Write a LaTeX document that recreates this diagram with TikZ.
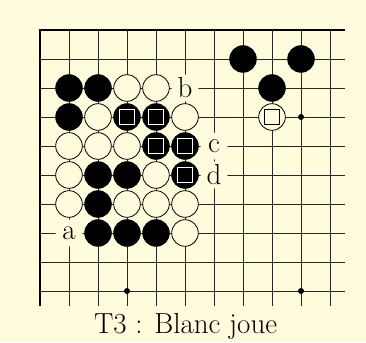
\documentclass[tikz,border=0pt]{standalone}
\usepackage{xcolor}
\usepackage{tikz}

\definecolor{boardyellow}{RGB}{255,252,221}

\begin{document}
\begin{tikzpicture}[x=29pt,y=-29pt,
  gridline/.style={line width=0.9pt,black!85},
  edgeline/.style={line width=2.8pt,black},
  blackstone/.style={fill=black,draw=black,line width=0.8pt},
  whitestone/.style={fill=boardyellow,draw=black,line width=0.8pt},
  labelspot/.style={fill=boardyellow},
  boardtext/.style={font=\fontsize{29}{34}\selectfont,inner sep=0pt}]
\useasboundingbox[fill=boardyellow] (-1.3793,-1.0345) rectangle (11.2414,10.7586);

% grid
\foreach \c in {1,...,10}
  \draw[gridline] (\c,0) -- (\c,9.5);
\foreach \r in {1,...,9}
  \draw[gridline] (0,\r) -- (10.5,\r);
\draw[edgeline,line join=miter] (10.5,0) -- (0,0) -- (0,9.5);

% hoshi
\foreach \c/\r in {9/3,3/9,9/9}
  \fill (\c,\r) circle (3pt);

% labels cut the grid
\foreach \c/\r/\t [count=\i] in {1/7/a,5/2/b,6/4/c,6/5/d}{
  \fill[labelspot] (\c,\r) circle (13.5pt);
  \node[boardtext] (lab\i) at (\c,\r) {\t};
}

% stones
\foreach \c/\r in {7/1,9/1,1/2,2/2,8/2,1/3,3/3,4/3,4/4,5/4,2/5,3/5,5/5,2/6,2/7,3/7,4/7}
  \draw[blackstone] (\c,\r) circle (13.3pt);
\foreach \c/\r in {3/2,4/2,2/3,5/3,8/3,1/4,2/4,3/4,1/5,4/5,1/6,3/6,4/6,5/6,5/7}
  \draw[whitestone] (\c,\r) circle (13.3pt);

% marks
\foreach \c/\r in {3/3,4/3,4/4,5/4,5/5}
  \draw[white,line width=1.7pt] (\c,\r) +(-7.5pt,-7.5pt) rectangle +(7.5pt,7.5pt);
\draw[black,line width=1.8pt] (8,3) +(-7.5pt,-7.5pt) rectangle +(7.5pt,7.5pt);

% caption
\node[boardtext,anchor=base] (caption) at (5.02,10.45) {T3~: Blanc joue};
\end{tikzpicture}
\end{document}
